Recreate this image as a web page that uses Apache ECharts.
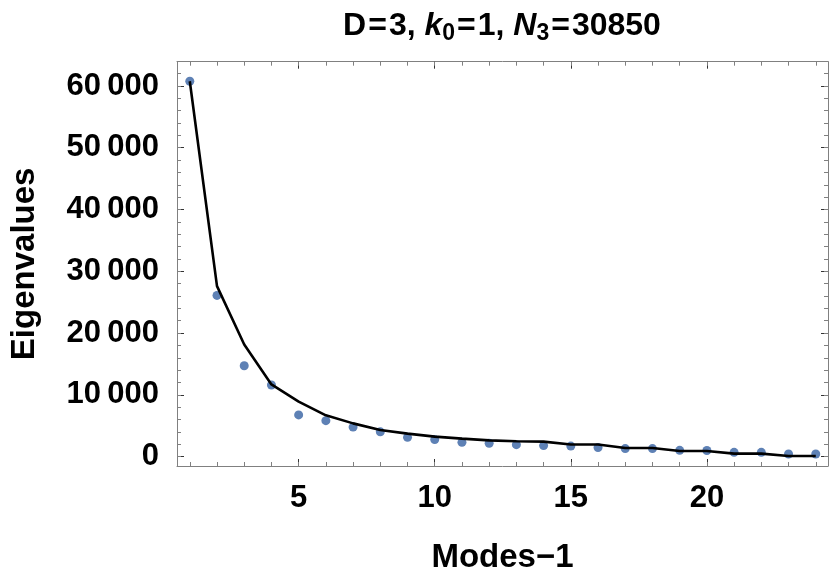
<!DOCTYPE html>
<html>
<head>
<meta charset="utf-8">
<script src="https://cdn.jsdelivr.net/npm/echarts@6/dist/echarts.min.js"></script>
<style>
html,body{margin:0;padding:0;background:#fff;}
#chart{width:830px;height:579px;}
</style>
</head>
<body>
<div id="chart"></div>
<script>
// ---- data ----
var modes = [1, 2, 3, 4, 5, 6, 7, 8, 9, 10, 11, 12, 13, 14, 15, 16, 17, 18, 19, 20, 21, 22, 23, 24];
var eigenvalues = [60760, 26100, 14700, 11600, 6750, 5820, 4780, 4010, 3120, 2750, 2310, 2170,
                   1940, 1780, 1700, 1470, 1300, 1300, 1010, 990, 690, 690, 420, 420];
var fitValues = [60760, 27600, 18150, 11680, 8900, 6680, 5380, 4300, 3720, 3230, 2910, 2630,
                 2480, 2420, 1960, 1960, 1400, 1400, 900, 900, 480, 480, 100, 100];
var xTickValues = [5, 10, 15, 20];
var xMinorTickValues = [1, 2, 3, 4, 5, 6, 7, 8, 9, 10, 11, 12, 13, 14, 15, 16, 17, 18, 19, 20, 21, 22, 23, 24];
var yTickValues = [0, 10000, 20000, 30000, 40000, 50000, 60000];
var yMinorTickValues = [0, 2000, 4000, 6000, 8000, 10000, 12000, 14000, 16000, 18000, 20000, 22000,
                        24000, 26000, 28000, 30000, 32000, 34000, 36000, 38000, 40000, 42000, 44000,
                        46000, 48000, 50000, 52000, 54000, 56000, 58000, 60000, 62000];
var xMin = 0.53, xMax = 24.45, yMin = -1520, yMax = 63930;

var FONT = '"Liberation Sans", Arial, sans-serif';
var frameColor = '#808080';
var majorTickColor = '#333';
var minorTickColor = '#808080';

function fmtY(v) {
  var s = String(Math.round(v));
  if (s.length > 3) s = s.slice(0, s.length - 3) + '\u2009' + s.slice(s.length - 3);
  return s;
}

var pts = modes.map(function (m, i) { return [m, eigenvalues[i]]; });
var fitPts = modes.map(function (m, i) { return [m, fitValues[i]]; });

function xAx(pos, ticks, len, color, showLine, showLabel, extra) {
  var a = {
    type: 'value', position: pos, min: xMin, max: xMax, gridIndex: 0,
    axisLine: { show: showLine, onZero: false, lineStyle: { color: frameColor, width: 1 } },
    axisTick: { show: true, inside: true, length: len, customValues: ticks, lineStyle: { color: color, width: 1 } },
    axisLabel: showLabel ? { show: true, customValues: ticks, margin: 17, fontFamily: FONT, fontWeight: 'bold', fontSize: 31, color: '#000' } : { show: false },
    splitLine: { show: false }
  };
  if (extra) for (var k in extra) a[k] = extra[k];
  return a;
}
function yAx(pos, ticks, len, color, showLine, showLabel, extra) {
  var a = {
    type: 'value', position: pos, min: yMin, max: yMax, gridIndex: 0,
    axisLine: { show: showLine, onZero: false, lineStyle: { color: frameColor, width: 1 } },
    axisTick: { show: true, inside: true, length: len, customValues: ticks, lineStyle: { color: color, width: 1 } },
    axisLabel: showLabel ? { show: true, customValues: ticks, margin: 18, fontFamily: FONT, fontWeight: 'bold', fontSize: 31, color: '#000', formatter: fmtY } : { show: false },
    splitLine: { show: false }
  };
  if (extra) for (var k in extra) a[k] = extra[k];
  return a;
}

var chart = echarts.init(document.getElementById('chart'), null, { renderer: 'canvas' });
chart.setOption({
  animation: false,
  backgroundColor: '#ffffff',
  title: {
    text: 'D{eq|=}3, {it|k}{sub|0}{eq|=}1, {it|N}{sub|3}{eq|=}30850',
    left: 497, top: 5, textAlign: 'center',
    textStyle: {
      fontFamily: FONT, fontWeight: 'bold', fontSize: 32, color: '#000',
      rich: {
        eq: { fontFamily: FONT, fontWeight: 'bold', fontSize: 32, color: '#000', padding: [0, 2, 0, 2], verticalAlign: 'bottom' },
        it: { fontFamily: FONT, fontWeight: 'bold', fontStyle: 'italic', fontSize: 32, color: '#000', verticalAlign: 'bottom' },
        sub: { fontFamily: FONT, fontWeight: 'bold', fontSize: 23, color: '#000', verticalAlign: 'bottom', padding: [0, 0, -3, 0] }
      }
    }
  },
  grid: { left: 172.7, right: 2, top: 61.7, bottom: 112.3, containLabel: false },
  xAxis: [
    xAx('bottom', xTickValues, 7, majorTickColor, true, true, {
      name: 'Modes\u22121', nameLocation: 'middle', nameGap: 75,
      nameTextStyle: { fontFamily: FONT, fontWeight: 'bold', fontSize: 33, color: '#000' }
    }),
    xAx('bottom', xMinorTickValues, 4, minorTickColor, false, false),
    xAx('top', xTickValues, 7, majorTickColor, true, false),
    xAx('top', xMinorTickValues, 4, minorTickColor, false, false)
  ],
  yAxis: [
    yAx('left', yTickValues, 7, majorTickColor, true, true, {
      name: 'Eigenvalues', nameLocation: 'middle', nameGap: 136, nameRotate: 90,
      nameTextStyle: { fontFamily: FONT, fontWeight: 'bold', fontSize: 33, color: '#000' }
    }),
    yAx('left', yMinorTickValues, 4, minorTickColor, false, false),
    yAx('right', yTickValues, 7, majorTickColor, true, false),
    yAx('right', yMinorTickValues, 4, minorTickColor, false, false)
  ],
  series: [
    {
      type: 'scatter', xAxisIndex: 0, yAxisIndex: 0, data: pts,
      symbol: 'circle', symbolSize: 9,
      itemStyle: { color: '#5e81b5', opacity: 1 }, z: 2, silent: true
    },
    {
      type: 'line', xAxisIndex: 0, yAxisIndex: 0, data: fitPts,
      showSymbol: false, symbol: 'none', smooth: false,
      lineStyle: { color: '#000', width: 2.6 }, z: 3, silent: true
    }
  ]
});
</script>
</body>
</html>
